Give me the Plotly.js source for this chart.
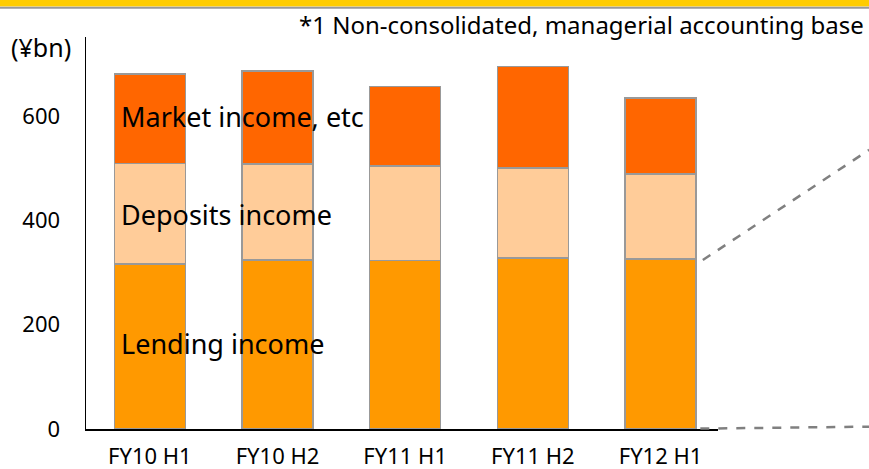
<!DOCTYPE html>
<html><head><meta charset="utf-8">
<script src="https://cdn.plot.ly/plotly-3.0.1.min.js"></script>
<style>html,body{margin:0;padding:0;background:#fff}#c{width:869px;height:469px}</style>
</head><body><div id="c"></div>
<script>
const categories = ["FY10 H1", "FY10 H2", "FY11 H1", "FY11 H2", "FY12 H1"];
const lendingIncome = [317, 324, 323, 328, 326];
const depositsIncome = [192, 184, 182, 173, 163];
const marketIncome = [172, 179, 152, 194, 146];
const yTicks = [0, 200, 400, 600];

const FONT = "Tahoma, 'Noto Sans', sans-serif";
const edge = {color: "#999999", width: 1.5};
function bar(name, y, color) {
  return {type: "bar", name: name, x: categories, y: y,
    marker: {color: color, line: edge}, hoverinfo: "skip"};
}
const data = [
  bar("Lending income", lendingIncome, "#FF9900"),
  bar("Deposits income", depositsIncome, "#FFCC99"),
  bar("Market income, etc", marketIncome, "#FF6600")
];

const layout = {
  width: 869, height: 469,
  margin: {l: 86, r: 151, t: 37, b: 40},
  paper_bgcolor: "#fff", plot_bgcolor: "#fff",
  barmode: "stack", bargap: 0.444, showlegend: false,
  font: {family: FONT, color: "#000"},
  xaxis: {type: "category", range: [-0.5, 4.45], showline: true, linecolor: "#000", linewidth: 2,
    ticks: "outside", ticklen: 7, tickcolor: "rgba(0,0,0,0)", tickfont: {size: 22, family: FONT},
    showgrid: false, zeroline: false, fixedrange: true},
  yaxis: {range: [0, 752], tickvals: yTicks, showline: true, linecolor: "#000", linewidth: 1.5,
    ticks: "outside", ticklen: 20, tickcolor: "rgba(0,0,0,0)", tickfont: {size: 22, family: FONT},
    showgrid: false, zeroline: false, fixedrange: true},
  shapes: [
    {type: "rect", xref: "paper", yref: "paper", x0: -0.14, x1: 1.25, y0: 1.078, y1: 1.1,
      fillcolor: "#FFCC00", line: {width: 0}},
    {type: "line", xref: "paper", yref: "paper", x0: -0.14, x1: 1.25, y0: 1.0745, y1: 1.0745,
      line: {color: "#999999", width: 2}},
    {type: "line", xref: "paper", yref: "paper", x0: 0.976, x1: 1.239, y0: 0.431, y1: 0.712,
      line: {color: "#808080", width: 2.5, dash: "dash"}},
    {type: "line", xref: "paper", yref: "paper", x0: 0.972, x1: 1.239, y0: 0.001, y1: 0.006,
      line: {color: "#808080", width: 2.5, dash: "dash"}}
  ],
  annotations: [
    {xref: "paper", yref: "paper", x: 0.053, y: 0.796, xanchor: "left", yanchor: "middle",
      text: "Market income, etc", showarrow: false, font: {size: 27, family: FONT}},
    {xref: "paper", yref: "paper", x: 0.053, y: 0.546, xanchor: "left", yanchor: "middle",
      text: "Deposits income", showarrow: false, font: {size: 27, family: FONT}},
    {xref: "paper", yref: "paper", x: 0.053, y: 0.219, xanchor: "left", yanchor: "middle",
      text: "Lending income", showarrow: false, font: {size: 27, family: FONT}},
    {xref: "paper", yref: "paper", x: 1.234, y: 1.033, xanchor: "right", yanchor: "middle",
      text: "*1 Non-consolidated, managerial accounting base", showarrow: false, font: {size: 24, family: FONT}},
    {xref: "paper", yref: "paper", x: -0.071, y: 0.974, xanchor: "center", yanchor: "middle",
      text: "(¥bn)", showarrow: false, font: {size: 25, family: FONT}}
  ]
};
Plotly.newPlot("c", data, layout, {displayModeBar: false, staticPlot: true});
</script></body></html>
